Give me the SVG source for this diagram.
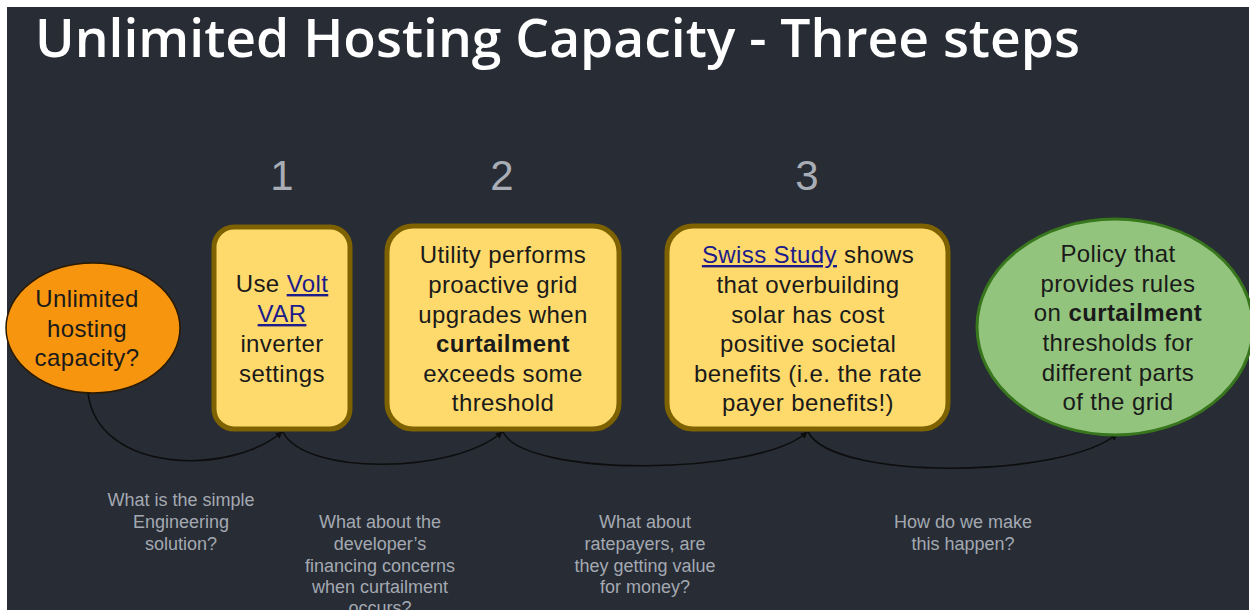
<svg xmlns="http://www.w3.org/2000/svg" width="1250" height="610" viewBox="0 0 1250 610">
  <style>
    .title { font-family: "Open Sans", "Liberation Sans", sans-serif; font-weight: 600; font-size: 53px; fill: #ffffff; }
    .num { font-family: "Liberation Sans", Arial, sans-serif; font-size: 42px; fill: #a9aeb6; text-anchor: middle; }
    .body { font-family: "Liberation Sans", Arial, sans-serif; font-size: 24px; letter-spacing: 0.4px; fill: #1a1a1a; text-anchor: middle; }
    .link { fill: #1c1c8a; text-decoration: underline; }
    .b { font-weight: bold; }
    .q { font-family: "Liberation Sans", Arial, sans-serif; font-size: 18px; fill: #a4a9b1; text-anchor: middle; }
    .box { fill: #fed96b; stroke: #7f6200; stroke-width: 5; }
    .conn { fill: none; stroke: #0d0d0d; stroke-width: 1.6; marker-end: url(#arr); }
  </style>
  <defs>
    <marker id="arr" viewBox="0 0 10 10" refX="9" refY="5" markerWidth="7" markerHeight="7" orient="auto" markerUnits="userSpaceOnUse">
      <path d="M0,0 L10,5 L0,10 z" fill="#0d0d0d"/>
    </marker>
  </defs>
  <rect x="0" y="0" width="1250" height="610" fill="#ffffff"/>
  <rect x="7" y="7" width="1242" height="603" fill="#272c35"/>

  <text class="title" x="35" y="57" textLength="1045" lengthAdjust="spacingAndGlyphs">Unlimited Hosting Capacity - Three steps</text>

  <text class="num" x="282" y="190">1</text>
  <text class="num" x="502" y="190">2</text>
  <text class="num" x="807" y="190">3</text>

  <g id="connectors">
    <path class="conn" d="M88,393 C98,474 230,476 282,432"/>
    <path class="conn" d="M283,432 C305,476 455,474 502,432"/>
    <path class="conn" d="M503,432 C525,478 760,476 807,432"/>
    <path class="conn" d="M808,432 C835,482 1065,478 1117,434"/>
  </g>

  <g id="start">
    <ellipse cx="93" cy="328" rx="87" ry="65" fill="#f7950f" stroke="#2a1a00" stroke-width="1.5"/>
    <text class="body" x="87" y="307">Unlimited</text>
    <text class="body" x="87" y="337">hosting</text>
    <text class="body" x="87" y="366">capacity?</text>
  </g>

  <g id="step1">
    <rect class="box" x="214" y="227" width="136" height="202" rx="20"/>
    <text class="body" x="282" y="292">Use <tspan class="link">Volt</tspan></text>
    <text class="body" x="282" y="322"><tspan class="link">VAR</tspan></text>
    <text class="body" x="282" y="352">inverter</text>
    <text class="body" x="282" y="382">settings</text>
  </g>

  <g id="step2">
    <rect class="box" x="387" y="226" width="232" height="203" rx="26"/>
    <text class="body" x="503" y="263">Utility performs</text>
    <text class="body" x="503" y="293">proactive grid</text>
    <text class="body" x="503" y="323">upgrades when</text>
    <text class="body b" x="503" y="352">curtailment</text>
    <text class="body" x="503" y="382">exceeds some</text>
    <text class="body" x="503" y="411">threshold</text>
  </g>

  <g id="step3">
    <rect class="box" x="667" y="226" width="281" height="203" rx="26"/>
    <text class="body" x="808" y="263"><tspan class="link">Swiss Study</tspan> shows</text>
    <text class="body" x="808" y="293">that overbuilding</text>
    <text class="body" x="808" y="323">solar has cost</text>
    <text class="body" x="808" y="352">positive societal</text>
    <text class="body" x="808" y="382">benefits (i.e. the rate</text>
    <text class="body" x="808" y="411">payer benefits!)</text>
  </g>

  <g id="policy">
    <ellipse cx="1115" cy="327" rx="138" ry="108" fill="#93c47d" stroke="#38761d" stroke-width="3"/>
    <text class="body" x="1118" y="262">Policy that</text>
    <text class="body" x="1118" y="292">provides rules</text>
    <text class="body" x="1118" y="321">on <tspan class="b">curtailment</tspan></text>
    <text class="body" x="1118" y="351">thresholds for</text>
    <text class="body" x="1118" y="381">different parts</text>
    <text class="body" x="1118" y="410">of the grid</text>
  </g>

  <g id="q1">
    <text class="q" x="181" y="506">What is the simple</text>
    <text class="q" x="181" y="528">Engineering</text>
    <text class="q" x="181" y="550">solution?</text>
  </g>
  <g id="q2">
    <text class="q" x="380" y="528">What about the</text>
    <text class="q" x="380" y="550">developer’s</text>
    <text class="q" x="380" y="572">financing concerns</text>
    <text class="q" x="380" y="593">when curtailment</text>
    <text class="q" x="380" y="614">occurs?</text>
  </g>
  <g id="q3">
    <text class="q" x="645" y="528">What about</text>
    <text class="q" x="645" y="550">ratepayers, are</text>
    <text class="q" x="645" y="572">they getting value</text>
    <text class="q" x="645" y="593">for money?</text>
  </g>
  <g id="q4">
    <text class="q" x="963" y="528">How do we make</text>
    <text class="q" x="963" y="550">this happen?</text>
  </g>
</svg>
